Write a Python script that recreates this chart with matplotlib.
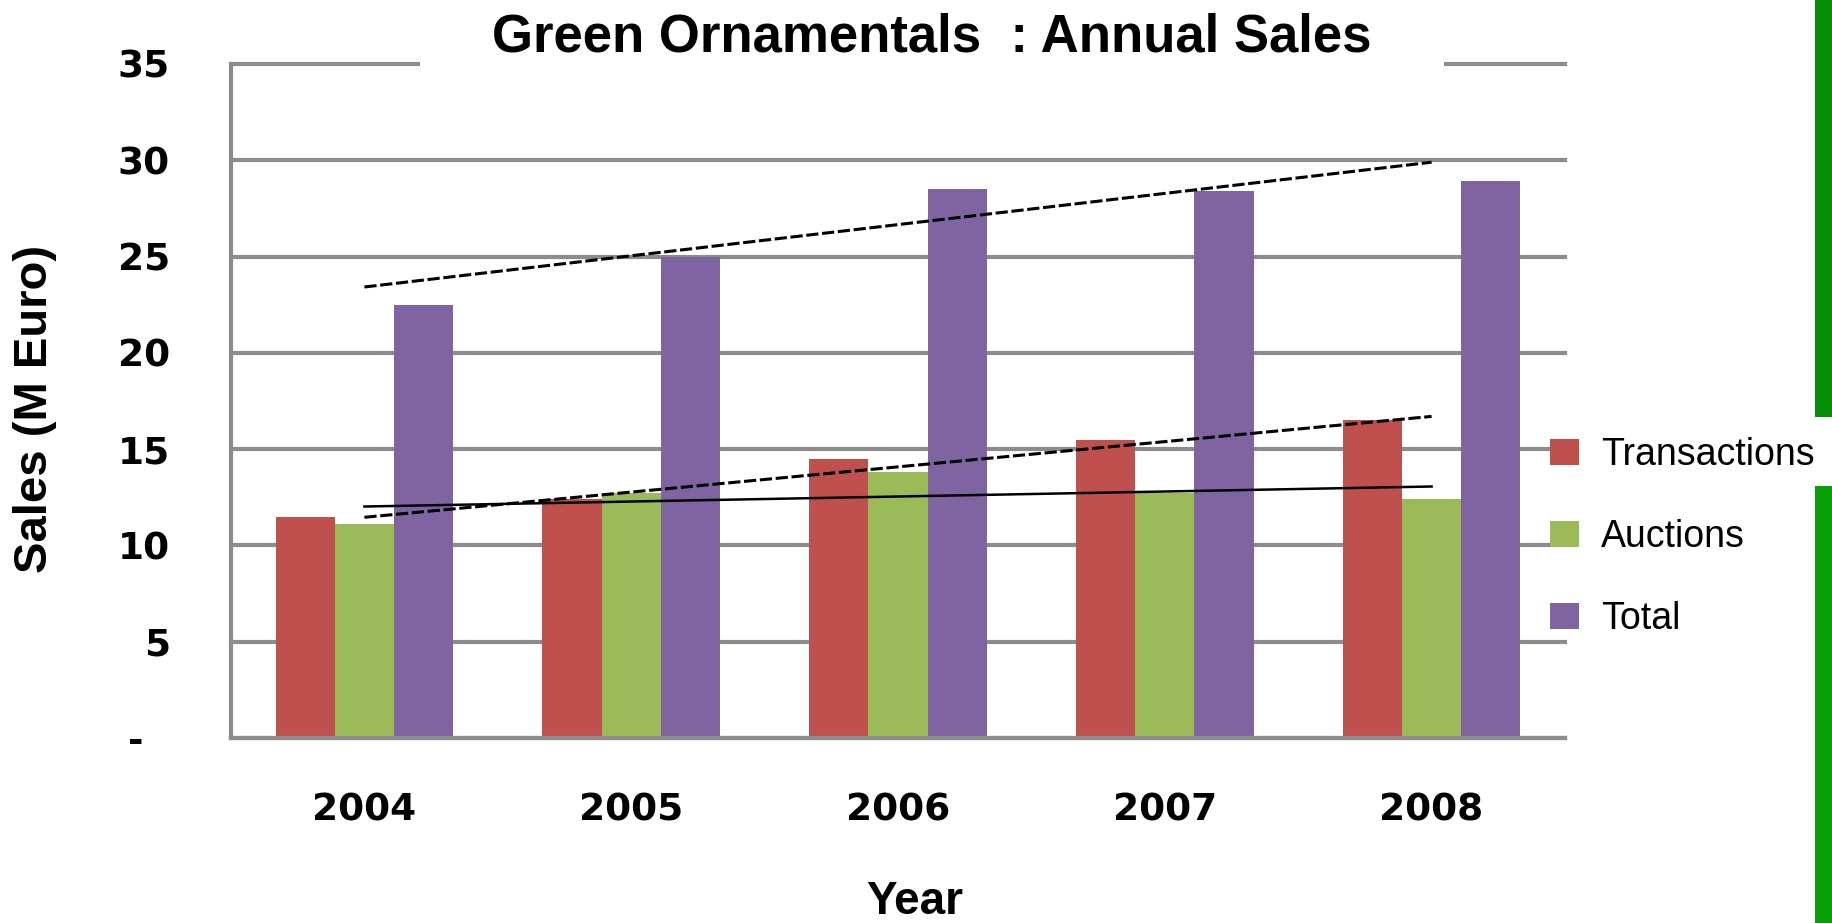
import matplotlib.pyplot as plt
import numpy as np
from matplotlib.patches import Rectangle

years = ['2004', '2005', '2006', '2007', '2008']
transactions = [11.5, 12.4, 14.5, 15.5, 16.5]
auctions = [11.1, 12.7, 13.8, 12.7, 12.4]
total = [22.5, 25.0, 28.5, 28.4, 28.9]

series_names = ['Transactions', 'Auctions', 'Total']
colors = ['#c0504d', '#9bbb59', '#8064a2']

W, H = 1832, 923
fig = plt.figure(figsize=(W / 100, H / 100), dpi=100)
ax = fig.add_axes([231 / W, 1 - 738 / H, (1565 - 231) / W, (738 - 64) / H])

x = np.arange(len(years))
bw = 0.222
for i, (vals, name, col) in enumerate(zip([transactions, auctions, total], series_names, colors)):
    ax.bar(x + (i - 1) * bw, vals, width=bw, color=col, label=name, zorder=2)

# linear trend lines
for vals, ls, lw in [(total, (0, (4, 1.2)), 2.2), (transactions, (0, (4, 1.2)), 2.2), (auctions, '-', 1.8)]:
    k, b = np.polyfit(x, vals, 1)
    ax.plot([0, 4], [b, b + 4 * k], color='black', linestyle=ls, linewidth=lw, zorder=3)

ax.set_xlim(-0.5, 4.5)
ax.set_ylim(0, 35)
ax.set_yticks(np.arange(0, 36, 5))
ax.set_yticklabels(['-  '] + [str(v) for v in range(5, 36, 5)])
ax.set_xticks(x)
ax.set_xticklabels(years)
ax.tick_params(axis='both', length=0)
ax.tick_params(axis='y', pad=44)
ax.tick_params(axis='x', pad=39)
for lab in ax.get_xticklabels() + ax.get_yticklabels():
    lab.set_fontfamily('DejaVu Sans')
    lab.set_fontweight('bold')
    lab.set_fontsize(27)

ax.set_axisbelow(True)
ax.yaxis.grid(True, color='#8c8c8c', linewidth=3)
for gl in ax.get_ygridlines():
    gl.set_clip_on(False)
for s in ['top', 'right']:
    ax.spines[s].set_visible(False)
for s in ['left', 'bottom']:
    ax.spines[s].set_color('#8c8c8c')
    ax.spines[s].set_linewidth(3)

fig.text(932 / W, 1 - 37 / H, 'Green Ornamentals  : Annual Sales', ha='center', va='center',
         fontsize=38, fontweight='bold', family='Liberation Sans', zorder=10,
         bbox=dict(facecolor='white', edgecolor='none', pad=52))
fig.text(35 / W, 1 - 409 / H, 'Sales (M Euro)', rotation=90, ha='center', va='center',
         fontsize=34, fontweight='bold', family='Liberation Sans')
fig.text(915 / W, 1 - 902 / H, 'Year', ha='center', va='center',
         fontsize=33, fontweight='bold', family='Liberation Sans')

fig.legend(loc='upper left', bbox_to_anchor=(1550 / W, 1 - 437 / H), frameon=False,
           prop={'family': 'Liberation Sans', 'size': 27}, handlelength=0.77, handleheight=0.69,
           handletextpad=0.6, labelspacing=1.23, borderpad=0, borderaxespad=0)

# green strip at the right edge
fig.patches.append(Rectangle((1815 / W, 1 - 417 / H), 17 / W, 417 / H, transform=fig.transFigure,
                             facecolor='#068f06', edgecolor='none'))
fig.patches.append(Rectangle((1815 / W, 0), 17 / W, 1 - 486 / H, transform=fig.transFigure,
                             facecolor='#08a008', edgecolor='none'))

fig.savefig('out.png', dpi=100)
